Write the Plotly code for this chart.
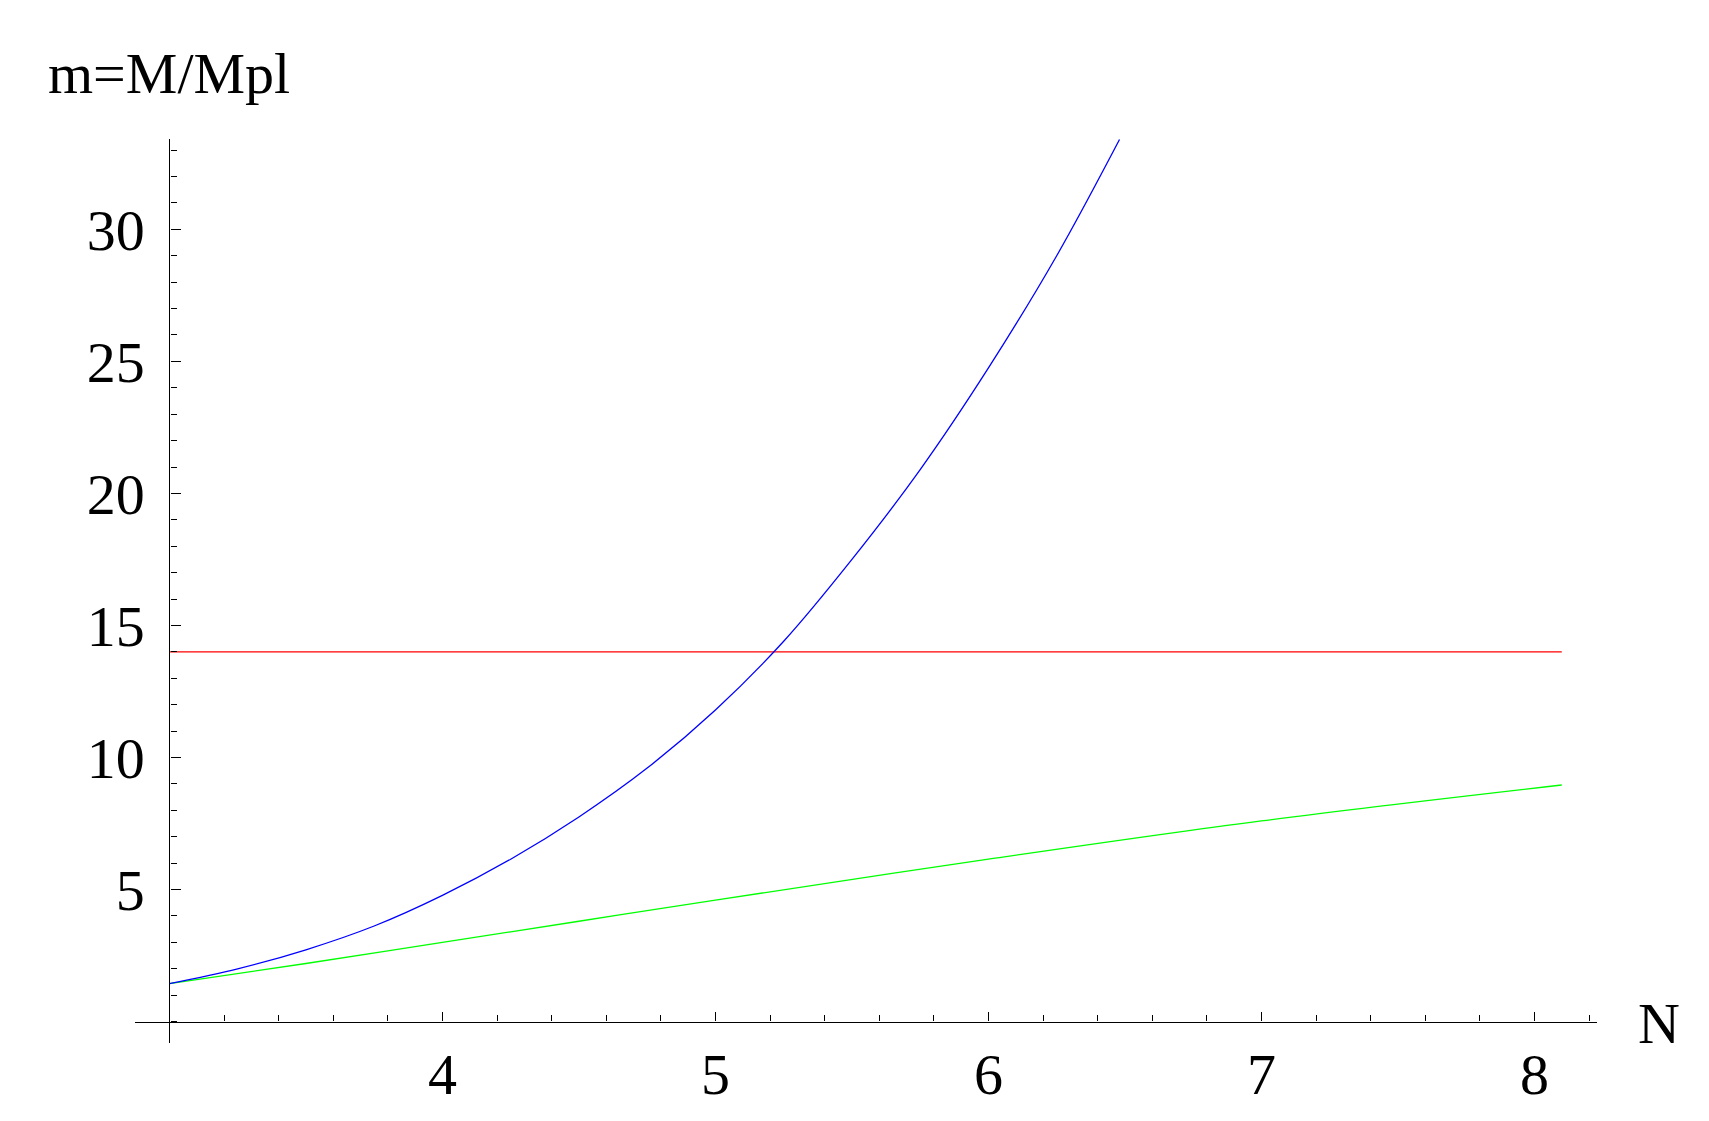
import plotly.graph_objects as go

# values
n_blue = [3.0, 3.25, 3.5, 3.75, 4.0, 4.25, 4.5, 4.75, 5.0, 5.25, 5.5, 5.75, 6.0, 6.25, 6.48]
m_blue = [1.44, 2.0, 2.72, 3.62, 4.78, 6.15, 7.75, 9.6, 11.8, 14.4, 17.5, 20.9, 24.75, 29.0, 33.4]

n_green = [3.0, 3.5, 4.0, 4.5, 5.0, 6.0, 7.0, 8.1]
m_green = [1.44, 2.2, 3.0, 3.8, 4.6, 6.15, 7.6, 8.96]

n_red = [3.0, 8.1]
m_red = [14.0, 14.0]

x_ticks = [4, 5, 6, 7, 8]
y_ticks = [5, 10, 15, 20, 25, 30]

# page / plot box in pixels
W, H = 1709, 1121
L, R, T, B = 135, 1596.7, 139, 1042.7
x_range = [2.874, 8.229]
y_range = [-0.81, 33.42]
x_origin, y_origin = 3.0, 0.0

def px_x(p):
    return (p - L) / (R - L)

def px_y(p):
    return (B - p) / (B - T)

fig = go.Figure()
fig.add_trace(go.Scatter(x=n_red, y=m_red, mode='lines',
                         line=dict(color='#ff0000', width=1.3)))
fig.add_trace(go.Scatter(x=n_green, y=m_green, mode='lines', line_shape='spline',
                         line=dict(color='#00ff00', width=1.3)))
fig.add_trace(go.Scatter(x=n_blue, y=m_blue, mode='lines', line_shape='spline',
                         line=dict(color='#0000ff', width=1.3)))

serif = 'Liberation Serif, Times New Roman, serif'

fig.update_layout(
    width=W, height=H,
    margin=dict(l=L, r=W - R, t=T, b=H - B, pad=0, autoexpand=False),
    plot_bgcolor='white', paper_bgcolor='white',
    showlegend=False,
    font=dict(family=serif, color='black'),
)

fig.update_xaxes(
    range=x_range, anchor='free', automargin=False,
    position=(y_origin - y_range[0]) / (y_range[1] - y_range[0]),
    showgrid=False, zeroline=False,
    showline=True, linecolor='black', linewidth=1.3,
    tickmode='array', tickvals=x_ticks, ticktext=[str(v) for v in x_ticks],
    ticks='inside', ticklen=9, tickwidth=1.3, tickcolor='black',
    tickfont=dict(size=58, family=serif), ticklabelstandoff=2,
    minor=dict(ticks='inside', ticklen=6, tickwidth=1.3, tickcolor='black',
               dtick=0.2, tick0=3, showgrid=False),
)
fig.update_yaxes(
    range=y_range, anchor='free', automargin=False,
    position=(x_origin - x_range[0]) / (x_range[1] - x_range[0]),
    showgrid=False, zeroline=False,
    showline=True, linecolor='black', linewidth=1.3,
    tickmode='array', tickvals=y_ticks, ticktext=[str(v) for v in y_ticks],
    ticks='inside', ticklen=10, tickwidth=1.3, tickcolor='black',
    tickfont=dict(size=58, family=serif), ticklabelstandoff=13,
    minor=dict(ticks='inside', ticklen=6, tickwidth=1.3, tickcolor='black',
               dtick=1, tick0=0, showgrid=False),
)

fig.add_annotation(text='m=M/Mpl', xref='paper', yref='paper',
                   x=px_x(46), y=px_y(74), xanchor='left', yanchor='middle',
                   showarrow=False, font=dict(size=58, family=serif, color='black'))
fig.add_annotation(text='N', xref='paper', yref='paper',
                   x=px_x(1659), y=px_y(1023), xanchor='center', yanchor='middle',
                   showarrow=False, font=dict(size=58, family=serif, color='black'))

# the page's default body margin would shift the figure
fig.write_html("out.html", config={'displayModeBar': False},
               post_script="document.body.style.margin='0';")
